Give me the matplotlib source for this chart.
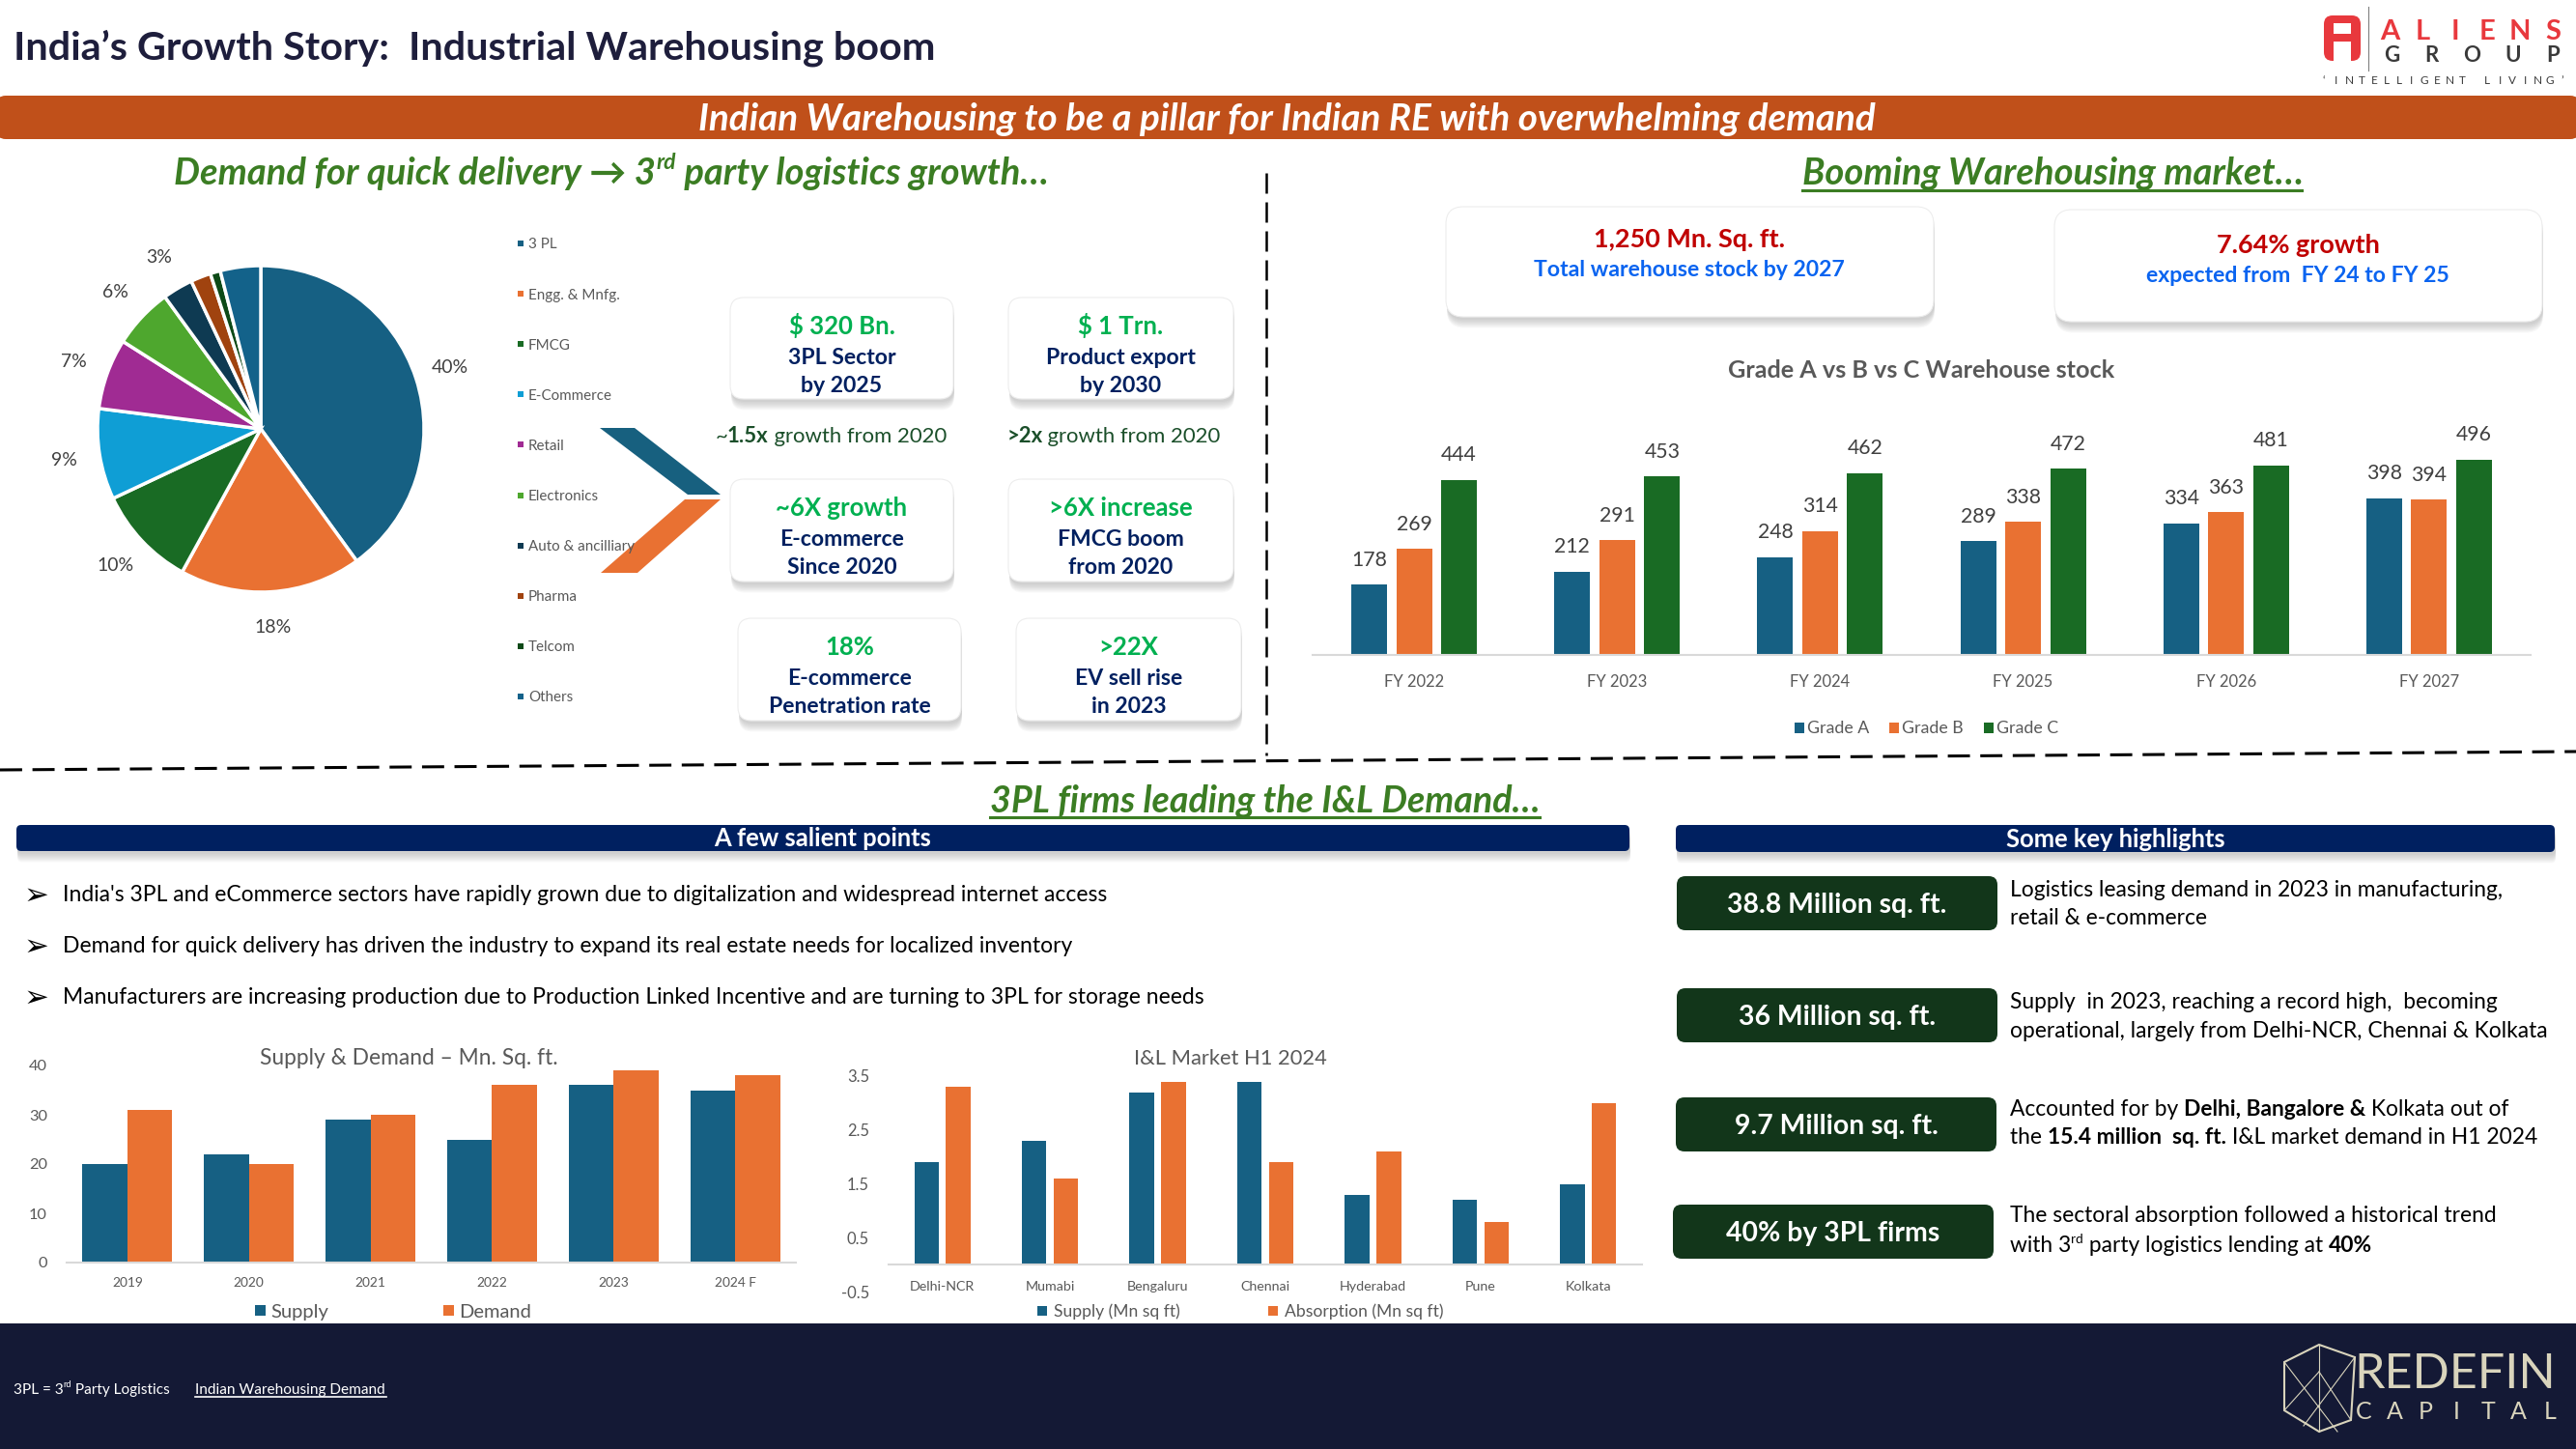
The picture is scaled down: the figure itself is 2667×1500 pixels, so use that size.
import matplotlib
matplotlib.use('Agg')
import matplotlib.pyplot as plt
from matplotlib.patches import FancyBboxPatch, Rectangle, Polygon
import numpy as np

plt.rcParams['font.family'] = ['Lato', 'DejaVu Sans']

# ---------------- data ----------------
pie_sectors = ['3 PL', 'Engg. & Mnfg.', 'FMCG', 'E-Commerce', 'Retail', 'Electronics',
               'Auto & ancilliary', 'Pharma', 'Telcom', 'Others']
pie_shares = [40, 18, 10, 9, 7, 6, 3, 2, 1, 4]
pie_show_label = [True, True, True, True, True, True, True, False, False, False]
pie_colors = ['#166083', '#E97132', '#196B24', '#0F9ED5', '#A02B93', '#4EA72E',
              '#0E3A52', '#A0430F', '#0D4A17', '#13628A']

grade_years = ['FY 2022', 'FY 2023', 'FY 2024', 'FY 2025', 'FY 2026', 'FY 2027']
grade_a = [178, 212, 248, 289, 334, 398]
grade_b = [269, 291, 314, 338, 363, 394]
grade_c = [444, 453, 462, 472, 481, 496]
grade_series = ['Grade A', 'Grade B', 'Grade C']

sd_years = ['2019', '2020', '2021', '2022', '2023', '2024 F']
sd_supply = [20, 22, 29, 25, 36, 35]
sd_demand = [31, 20, 30, 36, 39, 38]
sd_series = ['Supply', 'Demand']
sd_yticks = [0, 10, 20, 30, 40]

il_cities = ['Delhi-NCR', 'Mumabi', 'Bengaluru', 'Chennai', 'Hyderabad', 'Pune', 'Kolkata']
il_supply = [1.9, 2.3, 3.2, 3.4, 1.3, 1.2, 1.5]
il_absorption = [3.3, 1.6, 3.4, 1.9, 2.1, 0.8, 3.0]
il_series = ['Supply (Mn sq ft)', 'Absorption (Mn sq ft)']
il_yticks = [-0.5, 0.5, 1.5, 2.5, 3.5]

stat_boxes = [('$ 320 Bn.', '3PL Sector', 'by 2025'),
              ('$ 1 Trn.', 'Product export', 'by 2030'),
              ('~6X growth', 'E-commerce', 'Since 2020'),
              ('>6X increase', 'FMCG boom', 'from 2020'),
              ('18%', 'E-commerce', 'Penetration rate'),
              ('>22X', 'EV sell rise', 'in 2023')]

bullets = ["India's 3PL and eCommerce sectors have rapidly grown due to digitalization and widespread internet access",
           "Demand for quick delivery has driven the industry to expand its real estate needs for localized inventory",
           "Manufacturers are increasing production due to Production Linked Incentive and are turning to 3PL for storage needs"]

highlight_values = ['38.8 Million sq. ft.', '36 Million sq. ft.', '9.7 Million sq. ft.', '40% by 3PL firms']

# ---------------- colours ----------------
C_BLUE, C_ORANGE, C_GREEN = '#166083', '#E97132', '#196B24'
NAVY = '#002060'
GREY = '#595959'
HEAD_GREEN = '#3B7D23'

W, H = 2667, 1500
PX = 100 / 72
fig = plt.figure(figsize=(W / 100, H / 100), dpi=100)
bg = fig.add_axes([0, 0, 1, 1])
bg.set_xlim(0, W)
bg.set_ylim(H, 0)
bg.axis('off')
renderer = fig.canvas.get_renderer()


def text_w(s, **kw):
    t = bg.text(0, 0, s + '|', **kw)
    a = t.get_window_extent(renderer).width
    t.set_text('|')
    b = t.get_window_extent(renderer).width
    t.remove()
    return a - b


def fit(s, target, **kw):
    return 20 * target / text_w(s, fontsize=20, **kw)


def T(x, y, s, size, ha='center', color='black', **kw):
    return bg.text(x, y + 0.358 * size * PX, s, fontsize=size, ha=ha, va='baseline', color=color, **kw)


def rich_layout(segs, size, **base):
    out = []
    for s, kw in segs:
        k = dict(base)
        k.update(kw)
        sup = k.pop('sup', False)
        c = k.pop('color', None)
        fs = size * 0.6 if sup else size
        out.append((s, k, sup, c, fs, text_w(s, fontsize=fs, **k)))
    return out


def rich(x, y, segs, size, ha='center', color='black', **base):
    lay = rich_layout(segs, size, **base)
    total = sum(o[5] for o in lay)
    x0 = {'left': x, 'center': x - total / 2, 'right': x - total}[ha]
    yb = y + 0.358 * size * PX
    for s, k, sup, c, fs, w in lay:
        yy = yb - (0.42 * size * PX if sup else 0)
        bg.text(x0, yy, s, fontsize=fs, ha='left', va='baseline', color=c or color, **k)
        x0 += w
    return total


def rich_fit(segs, target, **base):
    lay = rich_layout(segs, 20, **base)
    return 20 * target / sum(o[5] for o in lay)


def rbox(x, y, w, h, color, r=10, shadow=False, z=1, ec='none'):
    if shadow:
        for k in range(8):
            bg.add_patch(FancyBboxPatch((x + 1, y + 3 + k * 1.2), w, h,
                                        boxstyle=f'round,pad=0,rounding_size={r}',
                                        fc='#7F7F7F', ec='none', alpha=0.05, zorder=z))
    bg.add_patch(FancyBboxPatch((x, y), w, h, boxstyle=f'round,pad=0,rounding_size={r}',
                                fc=color, ec=ec, lw=0.8, zorder=z + 0.5))


def px_axes(left, top, width, height):
    ax = fig.add_axes([left / W, 1 - (top + height) / H, width / W, height / H])
    ax.patch.set_alpha(0)
    return ax


# ---------------- header ----------------
title = 'India’s Growth Story:  Industrial Warehousing boom'
fs = fit(title, 955, weight='bold')
T(14, 47, title, fs, ha='left', color='#1E1E3C', weight='bold')

# ALIENS logo
bg.add_patch(FancyBboxPatch((2406, 16), 38, 47, boxstyle='round,pad=0,rounding_size=9', fc='#E8383D', ec='none'))
bg.add_patch(Rectangle((2416, 24), 18, 11, fc='white', ec='none'))
bg.add_patch(Rectangle((2416, 43), 18, 21, fc='white', ec='none'))
bg.plot([2452, 2452], [7, 73], color='#7F7F7F', lw=0.8)
for ch, xx in zip('ALIENS', np.linspace(2474, 2643, 6)):
    T(xx, 31, ch, 21, color='#E8383D', weight='bold')
for ch, xx in zip('GROUP', np.linspace(2476, 2643, 5)):
    T(xx, 56, ch, 16, color='#3A3A3A', weight='bold')
tag = '‘INTELLIGENT LIVING’'
for ch, xx in zip(tag, np.linspace(2406, 2653, len(tag))):
    T(xx, 83, ch, 8.5, color='#3A3A3A')

# orange banner
rbox(-4, 99, W + 8, 45, '#C0501A', r=10)
banner = 'Indian Warehousing to be a pillar for Indian RE with overwhelming demand'
fs = fit(banner, 1216, weight='bold', style='italic')
T(1332, 121, banner, fs, color='white', weight='bold', style='italic', zorder=3)

# section headings
segs = [('Demand for quick delivery → 3', {}), ('rd', {'sup': True}), (' party logistics growth…', {})]
fs = rich_fit(segs, 903, weight='bold', style='italic')
rich(633, 177, segs, fs, color=HEAD_GREEN, weight='bold', style='italic')

h2 = 'Booming Warehousing market…'
fs = fit(h2, 517, weight='bold', style='italic')
T(2125, 177, h2, fs, color=HEAD_GREEN, weight='bold', style='italic')
bg.plot([1866, 2383], [197, 197], color=HEAD_GREEN, lw=2.2)

# dashed separators
bg.plot([1311, 1311], [179, 782], color='black', lw=1.8, dashes=(8.4, 3.6))
bg.plot([0, 2667], [797, 778], color='black', lw=2.2, dashes=(7.5, 3.5))

# ---------------- pie ----------------
R = 169
axp = px_axes(270 - 1.5 * R, 444 - 1.5 * R, 3 * R, 3 * R)
wedges, _ = axp.pie(pie_shares, colors=pie_colors, startangle=90, counterclock=False,
                    wedgeprops=dict(edgecolor='white', linewidth=2.5))
axp.set_xlim(-1.5, 1.5)
axp.set_ylim(-1.5, 1.5)
axp.set_aspect('equal')
axp.axis('off')
lab_fs = fit('40%', 38)
for wdg, share, show in zip(wedges, pie_shares, pie_show_label):
    if not show:
        continue
    mid = np.deg2rad((wdg.theta1 + wdg.theta2) / 2)
    axp.text(1.22 * np.cos(mid), 1.22 * np.sin(mid), f'{share}%', ha='center', va='center',
             fontsize=lab_fs, color='#404040')

leg_fs = fit('Engg. & Mnfg.', 94)
for i, (name, col) in enumerate(zip(pie_sectors, pie_colors)):
    yy = 252 + i * 52.1
    bg.add_patch(Rectangle((536, yy - 3), 6, 6, fc=col, ec='none'))
    T(547, yy, name, leg_fs, ha='left', color=GREY)

# chevrons
bg.add_patch(Polygon([(621, 443), (657, 443), (746, 512), (712, 512)], closed=True, fc='#17607F', ec='none', zorder=2))
bg.add_patch(Polygon([(709, 517), (746, 517), (660, 593), (622, 593)], closed=True, fc='#E97132', ec='none', zorder=2))

# stat boxes
box_geom = [(756, 308, 231, 105), (1044, 308, 233, 105),
            (756, 496, 231, 106), (1044, 496, 233, 106),
            (764, 640, 231, 106), (1052, 640, 233, 106)]
g_fs = fit('$ 320 Bn.', 110, weight='bold')
n_fs = fit('Penetration rate', 168, weight='bold')
for (bx, by, bw_, bh), (l1, l2, l3) in zip(box_geom, stat_boxes):
    rbox(bx, by, bw_, bh, 'white', r=14, shadow=True, ec='#EDEDED')
    cx = bx + bw_ / 2
    T(cx, by + 29, l1, g_fs, color='#00B050', weight='bold', zorder=3)
    T(cx, by + 61, l2, n_fs, color=NAVY, weight='bold', zorder=3)
    T(cx, by + 90, l3, n_fs, color=NAVY, weight='bold', zorder=3)

segs1 = [('~', {}), ('1.5x', {'weight': 'bold'}), (' growth from 2020', {})]
segs2 = [('>2x', {'weight': 'bold'}), (' growth from 2020', {})]
gr_fs = rich_fit(segs1, 240)
rich(860, 450, segs1, gr_fs, color='#1B4F2A')
rich(1153, 450, segs2, gr_fs, color='#1B4F2A')

# ---------------- right top ----------------
rbox(1497, 214, 505, 114, 'white', r=18, shadow=True, ec='#EDEDED')
rbox(2127, 217, 505, 116, 'white', r=18, shadow=True, ec='#EDEDED')
r_fs = fit('1,250 Mn. Sq. ft.', 199, weight='bold')
b_fs = fit('Total warehouse stock by 2027', 322, weight='bold')
T(1749, 246, '1,250 Mn. Sq. ft.', r_fs, color='#C00000', weight='bold', zorder=3)
T(1749, 278, 'Total warehouse stock by 2027', b_fs, color='#0A64F0', weight='bold', zorder=3)
T(2379, 252, '7.64% growth', r_fs, color='#C00000', weight='bold', zorder=3)
T(2379, 284, 'expected from  FY 24 to FY 25', b_fs, color='#0A64F0', weight='bold', zorder=3)

gt = 'Grade A vs B vs C Warehouse stock'
fs = fit(gt, 402, weight='bold')
T(1989, 382, gt, fs, color=GREY, weight='bold')

# grade chart
g_base, g_scale, g_top = 678, 0.408, 420
axg = px_axes(1359, g_top, 2620 - 1359, g_base - g_top)
xg = np.arange(len(grade_years))
val_fs = fit('444', 37)
off, bwid = 46.5 / 210, 37 / 210
for i, (vals, col) in enumerate(zip([grade_a, grade_b, grade_c], [C_BLUE, C_ORANGE, C_GREEN])):
    bars = axg.bar(xg + (i - 1) * off, vals, bwid, color=col)
    for b, v in zip(bars, vals):
        axg.annotate(str(v), (b.get_x() + b.get_width() / 2, b.get_height()),
                     xytext=(0, (27 - 0.358 * val_fs * PX) * 0.72), textcoords='offset points',
                     ha='center', va='baseline', fontsize=val_fs, color='#404040')
axg.set_xlim(-0.5, 5.5)
axg.set_ylim(0, (g_base - g_top) / g_scale)
for s in ['top', 'left', 'right']:
    axg.spines[s].set_visible(False)
axg.spines['bottom'].set_color('#D9D9D9')
axg.spines['bottom'].set_linewidth(1.5)
axg.set_yticks([])
gx_fs = fit('FY 2022', 62)
axg.set_xticks(xg)
axg.set_xticklabels(grade_years, fontsize=gx_fs, color=GREY)
axg.tick_params(axis='x', length=0, pad=(26 - 0.38 * gx_fs * PX) * 0.72)

gl_fs = fit('Grade A', 64)
for sx, name, col in zip([1858, 1956, 2054], grade_series, [C_BLUE, C_ORANGE, C_GREEN]):
    bg.add_patch(Rectangle((sx, 748), 10, 11, fc=col, ec='none'))
    T(sx + 13, 753, name, gl_fs, ha='left', color=GREY)

# ---------------- bottom section ----------------
h3 = '3PL firms leading the I&L Demand…'
fs = fit(h3, 569, weight='bold', style='italic')
T(1310, 828, h3, fs, color=HEAD_GREEN, weight='bold', style='italic')
bg.plot([1025, 1594], [846, 846], color=HEAD_GREEN, lw=2.2)

rbox(17, 854, 1670, 27, NAVY, r=5, shadow=True)
rbox(1735, 854, 910, 28, NAVY, r=5, shadow=True)
nb_fs = fit('A few salient points', 225, weight='bold')
T(852, 867, 'A few salient points', nb_fs, color='white', weight='bold', zorder=3)
T(2190, 868, 'Some key highlights', nb_fs, color='white', weight='bold', zorder=3)

bl_fs = fit(bullets[2], 1182)
for yy, b in zip([925, 978, 1031], bullets):
    T(37, yy, '➢', bl_fs * 1.35, color='black', family=['DejaVu Sans'])
    T(65, yy, b, bl_fs, ha='left', color='black')

# supply & demand chart
st = 'Supply & Demand – Mn. Sq. ft.'
T(423, 1094, st, fit(st, 308), color=GREY)
axs = px_axes(69, 1103, 824 - 69, 1307 - 1103)
xs = np.arange(len(sd_years))
axs.bar(xs - 0.185, sd_supply, 0.37, color=C_BLUE)
axs.bar(xs + 0.185, sd_demand, 0.37, color=C_ORANGE)
axs.set_xlim(-0.5, 5.5)
axs.set_ylim(0, 40)
for s in ['top', 'left', 'right']:
    axs.spines[s].set_visible(False)
axs.spines['bottom'].set_color('#D9D9D9')
axs.spines['bottom'].set_linewidth(1.5)
sy_fs = fit('40', 19)
sx_fs = fit('2019', 32)
axs.set_yticks(sd_yticks)
axs.set_yticklabels([str(v) for v in sd_yticks], fontsize=sy_fs, color=GREY)
axs.set_xticks(xs)
axs.set_xticklabels(sd_years, fontsize=sx_fs, color=GREY)
axs.tick_params(axis='y', length=0, pad=20 * 0.72)
axs.tick_params(axis='x', length=0, pad=(20 - 0.38 * sx_fs * PX) * 0.72)
sl_fs = fit('Supply', 60)
for sq, name, col in zip([264, 459], sd_series, [C_BLUE, C_ORANGE]):
    bg.add_patch(Rectangle((sq, 1351), 11, 11, fc=col, ec='none'))
    T(sq + 16, 1357, name, sl_fs, ha='left', color=GREY)

# I&L chart
it = 'I&L Market H1 2024'
T(1274, 1094, it, fit(it, 200), color=GREY)
axi = px_axes(920, 1114, 1700 - 920, 1337 - 1114)
xi = np.arange(len(il_cities))
axi.bar(xi - 0.147, il_supply, 0.228, color=C_BLUE)
axi.bar(xi + 0.147, il_absorption, 0.228, color=C_ORANGE)
axi.set_xlim(-0.5, 6.5)
axi.set_ylim(-0.5, 3.5)
for s in ['top', 'left', 'right']:
    axi.spines[s].set_visible(False)
axi.spines['bottom'].set_position(('data', 0))
axi.spines['bottom'].set_color('#D9D9D9')
axi.spines['bottom'].set_linewidth(1.5)
iy_fs = fit('3.5', 23)
ix_fs = fit('Delhi-NCR', 68)
axi.set_yticks(il_yticks)
axi.set_yticklabels([f'{v:.1f}' for v in il_yticks], fontsize=iy_fs, color=GREY)
axi.set_xticks(xi)
axi.set_xticklabels(il_cities, fontsize=ix_fs, color=GREY)
axi.tick_params(axis='y', length=0, pad=20 * 0.72)
axi.tick_params(axis='x', length=0, pad=(22 - 0.38 * ix_fs * PX) * 0.72)
il_fs = fit('Supply (Mn sq ft)', 131)
for sq, name, col in zip([1074, 1313], il_series, [C_BLUE, C_ORANGE]):
    bg.add_patch(Rectangle((sq, 1352), 10, 10, fc=col, ec='none'))
    T(sq + 17, 1357, name, il_fs, ha='left', color=GREY)

# key highlights
hb_geom = [(1736, 907), (1736, 1023), (1735, 1136), (1732, 1247)]
hv_fs = fit('38.8 Million sq. ft.', 228, weight='bold')
for (hx, hy), val in zip(hb_geom, highlight_values):
    rbox(hx, hy, 332, 56, '#12361A', r=9)
    T(hx + 166, hy + 28, val, hv_fs, color='white', weight='bold', zorder=3)

d_fs = fit('operational, largely from Delhi-NCR, Chennai & Kolkata', 556)
desc = [
    ([('Logistics leasing demand in 2023 in manufacturing,', {})], 920),
    ([('retail & e-commerce', {})], 949),
    ([('Supply  in 2023, reaching a record high,  becoming', {})], 1036),
    ([('operational, largely from Delhi-NCR, Chennai & Kolkata', {})], 1066),
    ([('Accounted for by ', {}), ('Delhi, Bangalore &', {'weight': 'bold'}), (' Kolkata out of', {})], 1147),
    ([('the ', {}), ('15.4 million  sq. ft.', {'weight': 'bold'}), (' I&L market demand in H1 2024', {})], 1176),
    ([('The sectoral absorption followed a historical trend', {})], 1257),
    ([('with 3', {}), ('rd', {'sup': True}), (' party logistics lending at ', {}), ('40%', {'weight': 'bold'})], 1288),
]
for segs, yy in desc:
    rich(2081, yy, segs, d_fs, ha='left', color='black')

# ---------------- footer ----------------
bg.add_patch(Rectangle((0, 1370), W, 130, fc='#141935', ec='none'))
f_fs = fit('Indian Warehousing Demand', 198)
rich(14, 1437, [('3PL = 3', {}), ('rd', {'sup': True}), (' Party Logistics', {})], f_fs, ha='left', color='white')
T(202, 1437, 'Indian Warehousing Demand', f_fs, ha='left', color='white')
bg.plot([202, 400], [1446, 1446], color='white', lw=1.2)

LOGO = '#D9D4BC'
bg.add_patch(Polygon([(2401, 1392), (2438, 1405), (2434, 1470), (2401, 1482), (2365, 1460), (2365, 1410)],
                     closed=True, fc='none', ec=LOGO, lw=1.5))
for (x1, y1), (x2, y2) in [((2401, 1392), (2401, 1482)), ((2365, 1460), (2401, 1420)),
                           ((2401, 1420), (2434, 1470)), ((2365, 1410), (2420, 1482)),
                           ((2438, 1405), (2385, 1476))]:
    bg.plot([x1, x2], [y1, y2], color=LOGO, lw=0.8)
rf_fs = fit('REDEFIN', 208)
T(2437, 1419, 'REDEFIN', rf_fs, ha='left', color=LOGO)
for ch, xx in zip('CAPITAL', np.linspace(2447, 2640, 7)):
    T(xx, 1460, ch, 18, color=LOGO)

fig.savefig('out.png', dpi=100)
